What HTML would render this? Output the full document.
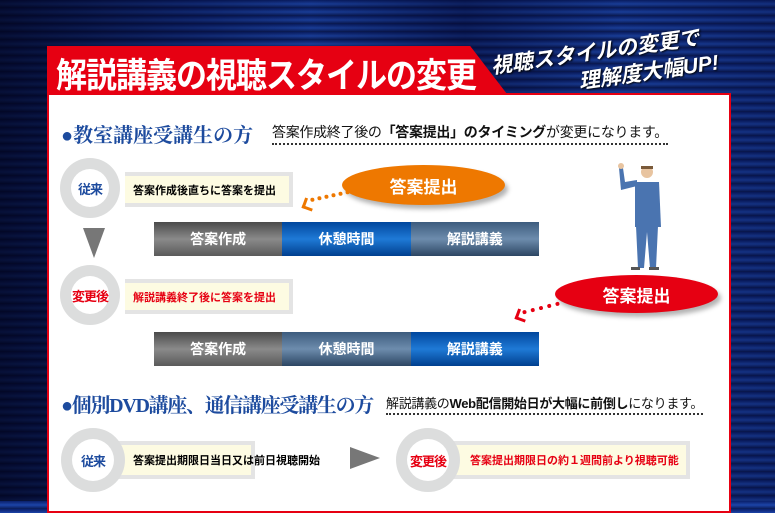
<!DOCTYPE html>
<html><head><meta charset="utf-8"><style>
*{margin:0;padding:0;box-sizing:border-box}
body{width:775px;height:501px;overflow:hidden;position:relative;font-family:"Liberation Sans","Noto Sans CJK JP",sans-serif;
background:repeating-linear-gradient(180deg,#0a1f6a 0px,#1c44a8 4px,#0a1a55 8px);}
.a{position:absolute}
.bg{left:0;top:0;width:775px;height:501px;background:linear-gradient(90deg,rgba(0,0,20,.75) 0,rgba(0,0,30,.4) 25%,rgba(0,0,0,.1) 40%,rgba(0,0,30,.5) 60%,rgba(0,0,0,.1) 80%,rgba(0,0,30,.3) 100%)}
.panel{left:47px;top:93px;width:684px;height:420px;background:#fff;border:2px solid #e60012}
.banner{left:47px;top:46px;width:460px;height:48px;background:#e60012;clip-path:polygon(0 0,92% 0,100% 100%,0 100%)}
.bt{left:56px;top:50px;color:#fff;font-size:31px;font-weight:bold;letter-spacing:-1px;white-space:nowrap;transform:scaleY(1.12)}
.slog{color:#fff;font-weight:bold;font-style:italic;font-size:21px;white-space:nowrap;transform:rotate(-8deg);text-shadow:1px 1px 2px #000}
.h{color:#1d4b9e;font-family:"Liberation Serif","Noto Serif CJK SC",serif;font-weight:bold;font-size:20px;white-space:nowrap}
.sub{font-size:14px;white-space:nowrap;color:#111;border-bottom:2px dotted #333;padding-bottom:1px;letter-spacing:-.3px}
.ring{border-radius:50%;background:#dcdddd}
.ring .in{position:absolute;border-radius:50%;background:#fff;left:11px;top:11px;right:11px;bottom:11px;display:flex;align-items:center;justify-content:center;font-weight:bold;font-size:13px;white-space:nowrap;letter-spacing:-1px}
.box{background:#fdfbe2;border:4px solid #e4e4e4;border-left:none;font-size:11px;font-weight:bold;display:flex;align-items:center;padding-left:8px;white-space:nowrap}
.bar{display:flex;height:34px;color:#fff;font-weight:bold;font-size:14px}
.bar div{flex:1;display:flex;align-items:center;justify-content:center}
.g{background:linear-gradient(#4a4a4a,#8a8a8a 50%,#5a5a5a)}
.bl{background:linear-gradient(#00479d,#1f7ad6 50%,#003f8f)}
.dk{background:linear-gradient(#3d5c7e,#6d8cad 50%,#2c4663)}
.ell{border-radius:50%;color:#fff;font-weight:bold;font-size:17px;display:flex;align-items:center;justify-content:center;box-shadow:3px 4px 5px rgba(0,0,0,.3)}
</style></head><body>
<div class="a bg"></div>
<div class="a panel"></div>
<div class="a banner"></div>
<div class="a bt">解説講義の視聴スタイルの変更</div>
<div class="a slog" style="left:490px;top:36px">視聴スタイルの変更で</div>
<div class="a slog" style="left:578px;top:56px">理解度大幅UP!</div>

<div class="a h" style="left:61px;top:119px">●教室講座受講生の方</div>
<div class="a sub" style="left:272px;top:122px">答案作成終了後の<b>「答案提出」のタイミング</b>が変更になります。</div>

<div class="a box" style="left:125px;top:172px;width:168px;height:35px">答案作成後直ちに答案を提出</div>
<div class="a ring" style="left:60px;top:158px;width:60px;height:60px"><div class="in" style="color:#1d4b9e">従来</div></div>
<div class="a" style="left:83px;top:228px;width:0;height:0;border-left:11px solid transparent;border-right:11px solid transparent;border-top:30px solid #777"></div>
<div class="a box" style="left:125px;top:279px;width:168px;height:35px;color:#e60012">解説講義終了後に答案を提出</div>
<div class="a ring" style="left:60px;top:265px;width:60px;height:60px"><div class="in" style="color:#e60012;left:4px;right:4px;top:11px;bottom:11px;background:transparent"><span style="position:absolute;left:7px;right:7px;top:0;bottom:0;background:#fff;border-radius:50%"></span><span style="position:relative">変更後</span></div></div>

<div class="a bar" style="left:154px;top:222px;width:385px"><div class="g">答案作成</div><div class="bl">休憩時間</div><div class="dk">解説講義</div></div>
<div class="a bar" style="left:154px;top:332px;width:385px"><div class="g">答案作成</div><div class="dk">休憩時間</div><div class="bl">解説講義</div></div>

<div class="a ell" style="left:342px;top:165px;width:163px;height:40px;background:#ee7800">答案提出</div>
<div class="a" style="left:310px;top:194px;width:40px;border-top:4px dotted #ee7800;transform:rotate(-12deg)"></div>
<div class="a" style="left:303px;top:199px;width:11px;height:11px;border-left:3px solid #ee7800;border-bottom:3px solid #ee7800;transform:rotate(20deg)"></div>
<div class="a ell" style="left:555px;top:275px;width:163px;height:38px;background:#e60012">答案提出</div>
<div class="a" style="left:522px;top:306px;width:38px;border-top:4px dotted #e60012;transform:rotate(-14deg)"></div>
<div class="a" style="left:516px;top:310px;width:11px;height:11px;border-left:3px solid #e60012;border-bottom:3px solid #e60012;transform:rotate(20deg)"></div>

<svg class="a" style="left:605px;top:160px" width="60" height="115">
<circle cx="42" cy="12" r="6" fill="#e8c4a0"/><path d="M36 6h12v3h-12z" fill="#7a5a3a"/>
<path d="M30 22h24l2 45h-26z" fill="#4a74b0"/><path d="M14 8l4 0 2 14 12 -2 0 6 -16 4z" fill="#4a74b0"/>
<circle cx="16" cy="6" r="3" fill="#e8c4a0"/>
<path d="M31 66h22l-2 42h-6l-3-36-3 36h-6z" fill="#4a74b0"/>
<path d="M26 107h9v3h-9zM44 107h10v3h-10z" fill="#555"/>
</svg>

<div class="a h" style="left:61px;top:389px;letter-spacing:-1.3px">●個別DVD講座、通信講座受講生の方</div>
<div class="a sub" style="left:386px;top:393px;font-size:13px">解説講義の<b>Web配信開始日が大幅に前倒し</b>になります。</div>

<div class="a box" style="left:105px;top:441px;width:150px;height:38px;padding-left:28px">答案提出期限日当日又は前日視聴開始</div>
<div class="a ring" style="left:61px;top:428px;width:64px;height:64px"><div class="in" style="color:#1d4b9e">従来</div></div>
<div class="a" style="left:350px;top:447px;width:0;height:0;border-top:11px solid transparent;border-bottom:11px solid transparent;border-left:30px solid #777"></div>
<div class="a box" style="left:440px;top:441px;width:250px;height:38px;padding-left:30px;color:#e60012">答案提出期限日の約１週間前より視聴可能</div>
<div class="a ring" style="left:396px;top:428px;width:64px;height:64px"><div class="in" style="color:#e60012">変更後</div></div>
</body></html>
